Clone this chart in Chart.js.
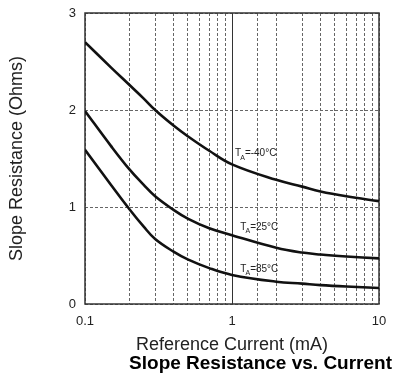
<!DOCTYPE html>
<html>
<head>
<meta charset="utf-8">
<script src="https://cdn.jsdelivr.net/npm/chart.js@4"></script>
<style>
  html, body { margin: 0; padding: 0; background: #fff; }
  #wrap { width: 396px; height: 377px; }
</style>
</head>
<body>
<div id="wrap"><canvas id="slopeChart"></canvas></div>
<script>
// values
const currents = [0.1, 0.15, 0.2, 0.25, 0.3, 0.4, 0.5, 0.7, 1, 2, 3, 4, 6, 10];
const ohmsMinus40 = [2.70, 2.44, 2.26, 2.12, 2.00, 1.84, 1.73, 1.58, 1.44, 1.28, 1.21, 1.16, 1.11, 1.06];
const ohms25 = [1.99, 1.63, 1.39, 1.23, 1.11, 0.97, 0.88, 0.78, 0.71, 0.58, 0.53, 0.51, 0.49, 0.47];
const ohms85 = [1.59, 1.23, 0.98, 0.80, 0.67, 0.54, 0.46, 0.37, 0.30, 0.23, 0.21, 0.195, 0.18, 0.165];
const xTickLabels = [0.1, 1, 10];
const yTicks = [0, 1, 2, 3];

// curve labels, anchored in data units
const curveLabels = [
    { x: 1.05, y: 1.55, text: '=-40°C' },
    { x: 1.14, y: 0.79, text: '=25°C' },
    { x: 1.14, y: 0.36, text: '=85°C' }
];

const FONT = "'Liberation Sans', Arial, sans-serif";

const toPoints = vals => vals.map((v, i) => ({ x: currents[i], y: v }));

const curve = (label, vals) => ({
    label,
    data: toPoints(vals),
    borderColor: '#111',
    borderWidth: 2.6,
    pointRadius: 0,
    fill: false,
    tension: 0.4
});

// solid frame + decade line + T_A labels
const decor = {
    id: 'decor',
    beforeDatasetsDraw(chart) {
        const { ctx, chartArea: a, scales: { x } } = chart;
        ctx.save();
        ctx.strokeStyle = '#333';
        ctx.lineWidth = 1;
        const px = Math.round(x.getPixelForValue(1)) + 0.5;
        ctx.beginPath();
        ctx.moveTo(px, a.top);
        ctx.lineTo(px, a.bottom);
        ctx.stroke();
        ctx.lineWidth = 1.5;
        ctx.strokeRect(a.left, a.top, a.right - a.left, a.bottom - a.top);
        ctx.restore();
    },
    afterDatasetsDraw(chart) {
        const { ctx, scales: { x, y } } = chart;
        ctx.save();
        ctx.fillStyle = '#222';
        ctx.textBaseline = 'middle';
        curveLabels.forEach(l => {
            let px = x.getPixelForValue(l.x);
            const py = y.getPixelForValue(l.y);
            ctx.font = '10px ' + FONT;
            ctx.fillText('T', px, py);
            px += ctx.measureText('T').width;
            ctx.font = '7px ' + FONT;
            ctx.fillText('A', px - 1, py + 4);
            px += ctx.measureText('A').width - 1;
            ctx.font = '10px ' + FONT;
            ctx.fillText(l.text, px, py);
        });
        ctx.restore();
    }
};

new Chart(document.getElementById('slopeChart'), {
    type: 'line',
    data: {
        datasets: [
            curve('TA=-40°C', ohmsMinus40),
            curve('TA=25°C', ohms25),
            curve('TA=85°C', ohms85)
        ]
    },
    options: {
        responsive: true,
        maintainAspectRatio: false,
        animation: false,
        layout: { padding: { top: 13, right: 4, left: 0, bottom: 0 } },
        plugins: {
            legend: { display: false },
            tooltip: { enabled: false },
            title: {
                display: true,
                position: 'bottom',
                align: 'end',
                text: 'Slope Resistance vs. Current',
                color: '#000',
                font: { family: FONT, size: 19, weight: 'bold', lineHeight: 1 },
                padding: { top: 0, bottom: 4 }
            }
        },
        scales: {
            x: {
                type: 'logarithmic',
                min: 0.1,
                max: 10,
                afterFit: s => { s.height = 50; s.paddingRight = 17; },
                grid: { color: '#666', lineWidth: 1, drawTicks: false },
                border: { display: false, dash: [3, 2] },
                ticks: {
                    color: '#222',
                    padding: 10,
                    autoSkip: false,
                    maxRotation: 0,
                    font: { family: FONT, size: 13 },
                    callback: v => xTickLabels.includes(Number(v)) ? String(v) : ''
                },
                title: {
                    display: true,
                    text: 'Reference Current (mA)',
                    color: '#222',
                    font: { family: FONT, size: 18, lineHeight: 1 },
                    padding: { top: 0, bottom: 0 }
                }
            },
            y: {
                min: 0,
                max: 3,
                afterFit: s => { s.width = 85; s.paddingTop = 0; },
                afterBuildTicks: s => { s.ticks = yTicks.map(v => ({ value: v })); },
                grid: { color: '#666', lineWidth: 1, drawTicks: false },
                border: { display: false, dash: [3, 2] },
                ticks: {
                    color: '#222',
                    padding: 9,
                    font: { family: FONT, size: 13 }
                },
                title: {
                    display: true,
                    text: 'Slope Resistance (Ohms)',
                    color: '#222',
                    font: { family: FONT, size: 18, lineHeight: 1 },
                    padding: { top: 8, bottom: 0 }
                }
            }
        }
    },
    plugins: [decor]
});
</script>
</body>
</html>
